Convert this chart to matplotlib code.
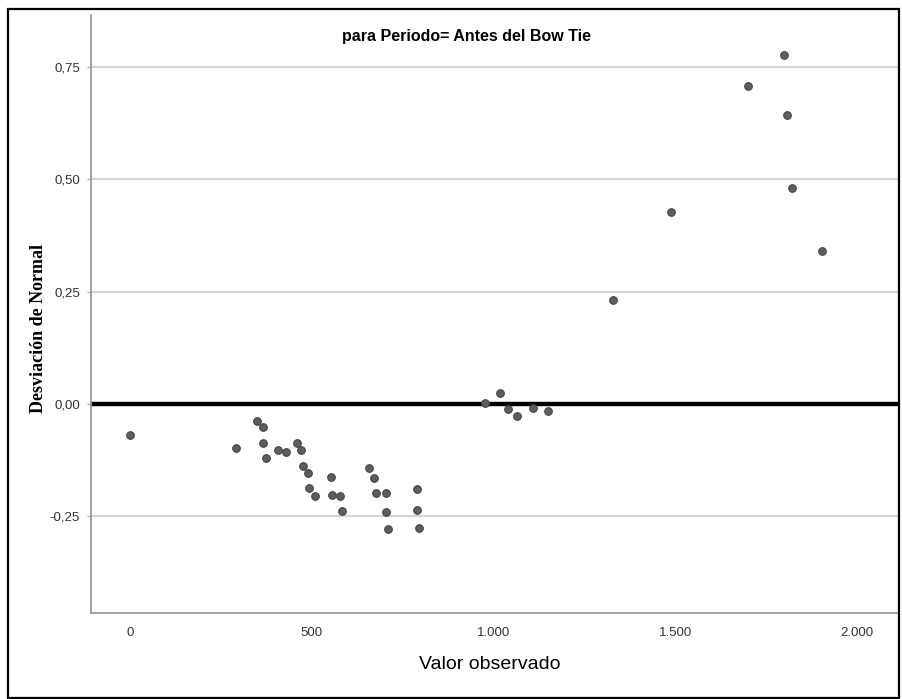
import matplotlib
matplotlib.use('Agg')
import matplotlib.pyplot as plt
from matplotlib.patches import Rectangle
from matplotlib.ticker import FuncFormatter

NARROW = ['Liberation Sans Narrow', 'Liberation Sans', 'DejaVu Sans']

# Q-Q sin tendencia: valor observado vs desviación de la normal
valor_obs = [0, 292, 349, 366, 366, 374, 407, 429, 459, 470, 476, 490, 492, 509,
             553, 556, 578, 583, 658, 671, 677, 704, 704, 710, 790, 790, 795,
             977, 1018, 1040, 1065, 1109, 1150,
             1329, 1488, 1700, 1799, 1807, 1821, 1903]
desviacion = [-0.069, -0.098, -0.038, -0.051, -0.087, -0.120, -0.102, -0.107,
              -0.087, -0.102, -0.138, -0.154, -0.187, -0.205,
              -0.163, -0.203, -0.205, -0.238, -0.143, -0.165, -0.198, -0.198,
              -0.240, -0.279, -0.189, -0.236, -0.276,
              0.002, 0.024, -0.011, -0.027, -0.009, -0.016,
              0.232, 0.428, 0.708, 0.777, 0.644, 0.481, 0.341]

x_ticks = [0, 500, 1000, 1500, 2000]
y_ticks = [-0.25, 0.0, 0.25, 0.50, 0.75]

fig = plt.figure(figsize=(9.02, 6.99), dpi=100)
ax = fig.add_axes([0.1009, 0.1230, 0.8947, 0.8555])

ax.set_xlim(-107, 2113)
ax.set_ylim(-0.4655, 0.866)

for yv in y_ticks:
    if yv != 0:
        ax.axhline(yv, color='#d6d6d6', lw=1.6, zorder=1)
ax.axhline(0, color='black', lw=3.2, zorder=2)

ax.scatter(valor_obs, desviacion, s=30, marker='o', c='#5e5e5e',
           edgecolors='#444444', linewidths=0.8, zorder=3)

ax.set_xticks(x_ticks)
ax.set_yticks(y_ticks)
ax.xaxis.set_major_formatter(FuncFormatter(lambda v, p: f'{int(v):,}'.replace(',', '.')))
ax.yaxis.set_major_formatter(FuncFormatter(lambda v, p: f'{v:.2f}'.replace('.', ',')))
ax.tick_params(axis='x', length=0, pad=10, labelsize=9.5, colors='#333333')
ax.tick_params(axis='y', length=3, width=0.8, color='#aaaaaa', pad=5,
               labelsize=9.5, labelcolor='#333333')
for lab in ax.get_xticklabels() + ax.get_yticklabels():
    lab.set_family(NARROW)

for side in ['top', 'right']:
    ax.spines[side].set_visible(False)
for side in ['left', 'bottom']:
    ax.spines[side].set_color('#999999')
    ax.spines[side].set_linewidth(1.3)

ax.text(0.4654, 0.9635, 'para Periodo= Antes del Bow Tie', transform=ax.transAxes,
        ha='center', va='center', fontsize=11.5, fontweight='bold', family=NARROW)

fig.text(0.543, 0.049, 'Valor observado', ha='center', va='center',
         fontsize=14, family=NARROW)
fig.text(0.043, 0.53, 'Desviación de Normal', rotation=90, ha='center', va='center',
         fontsize=13, fontweight='bold', family=['Liberation Serif', 'DejaVu Serif'])

# marco exterior
fig.patches.append(Rectangle((8 / 902, 0.002), (899 - 8) / 902, (690 - 1) / 699,
                             transform=fig.transFigure, fill=False,
                             ec='black', lw=1.6))

fig.savefig('out.png', dpi=100)
